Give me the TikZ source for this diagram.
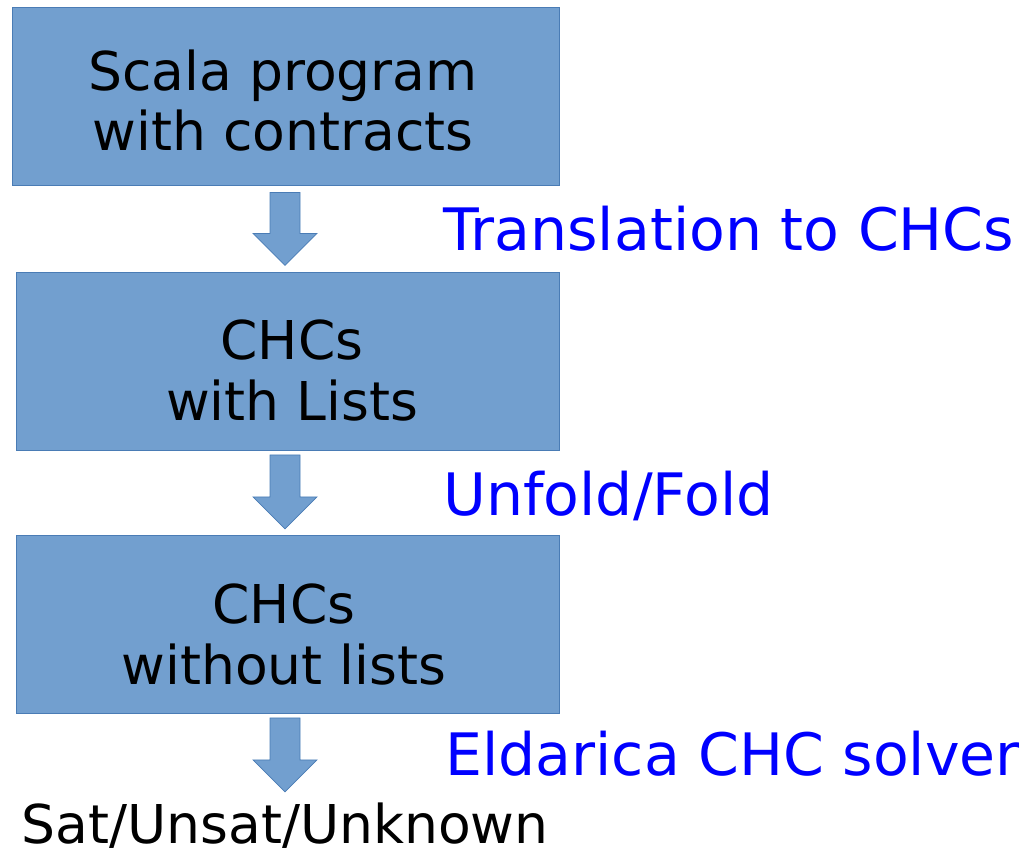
\documentclass[tikz,border=0pt]{standalone}
\usepackage{fontspec}
\setmainfont{DejaVu Sans}
\usetikzlibrary{positioning}
\definecolor{boxblue}{HTML}{729FCF}
\definecolor{boxedge}{HTML}{4A7CB5}

\begin{document}
\begin{tikzpicture}[x=1pt,y=-1pt,semithick]
  \tikzstyle{stage}=[draw=boxedge,fill=boxblue,line width=0.8pt,minimum width=547pt,minimum height=178pt,inner sep=0pt]
  \tikzstyle{stagetext}=[anchor=base,align=center,inner sep=0pt,font=\fontsize{53.5}{61}\selectfont]
  \tikzstyle{steptext}=[anchor=base west,inner sep=0pt,text=blue,font=\fontsize{58.5}{62}\selectfont]
  \tikzstyle{flow}=[draw=boxedge,fill=boxblue,line width=0.8pt,line join=miter]

  \useasboundingbox (0,0) rectangle (1023,848);

  % Stages
  \node[stage] (prog) at (285.5,96) {};
  \node[stage,minimum width=543pt] (lists) at (287.5,361.5) {};
  \node[stage,minimum width=543pt] (nolists) at (287.5,624.5) {};

  \node[stagetext] (progtxt) at (283,151) {Scala program\\with contracts};
  \node[stagetext] (liststxt) at (292,420) {CHCs\\with Lists};
  \node[stagetext] (nolisttxt) at (284,684) {CHCs\\without lists};
  \node[stagetext] (result) at (285,843) {Sat/Unsat/Unknown};

  % Steps
  \node[steptext] (translate) at (443,250) {Translation to CHCs};
  \node[steptext] (unfold) at (443,515) {Unfold/Fold};
  \node[steptext] (eldarica) at (445,775) {Eldarica CHC solver};

  % Arrows
  \draw[flow] ([xshift=-15.5pt,yshift=-7pt]prog.south) -- ++(0,41) -- ++(-17,0)
    -- ++(32,32) -- ++(32,-32) -- ++(-17,0) -- ++(0,-41) -- cycle;
  \draw[flow] ([xshift=-17.5pt,yshift=-4pt]lists.south) -- ++(0,42) -- ++(-17,0)
    -- ++(32,32) -- ++(32,-32) -- ++(-17,0) -- ++(0,-42) -- cycle;
  \draw[flow] ([xshift=-17.5pt,yshift=-4pt]nolists.south) -- ++(0,42) -- ++(-17,0)
    -- ++(32,32) -- ++(32,-32) -- ++(-17,0) -- ++(0,-42) -- cycle;
\end{tikzpicture}
\end{document}
